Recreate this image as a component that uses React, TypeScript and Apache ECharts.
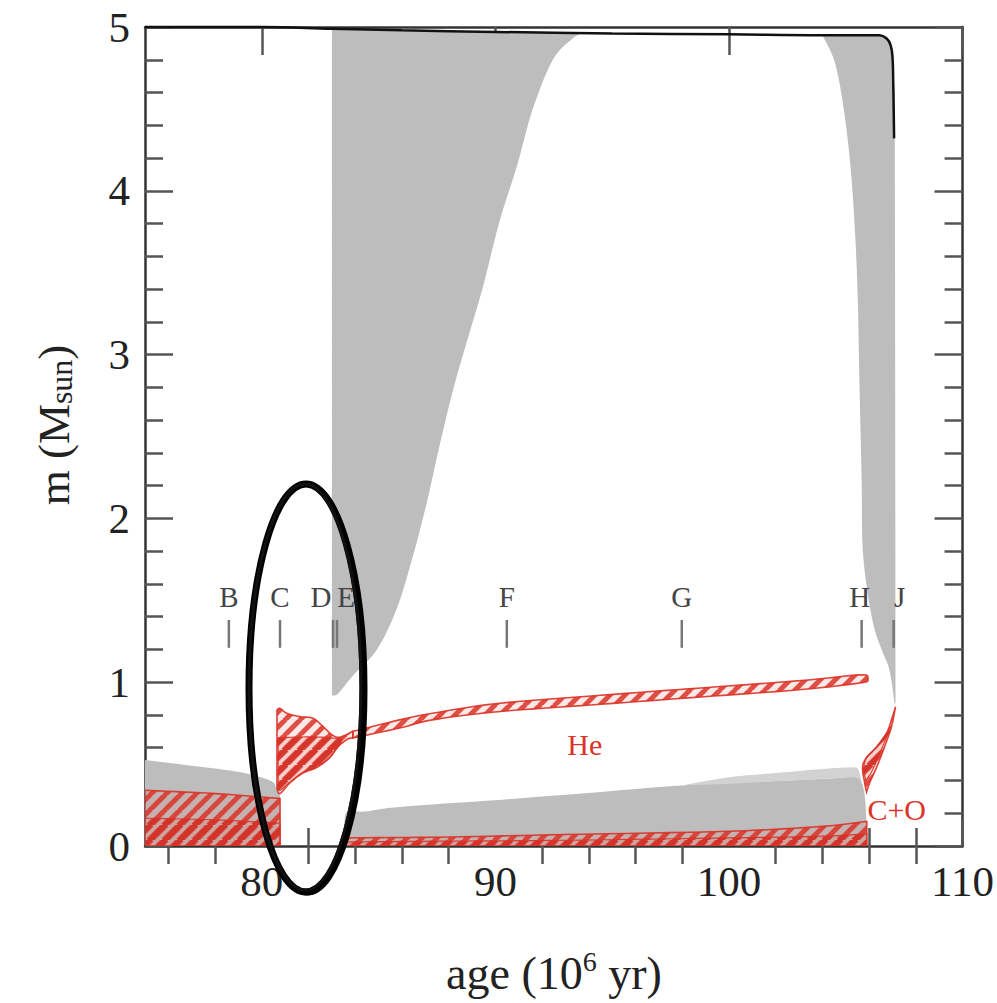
import { useEffect, useRef } from 'react';
import * as echarts from 'echarts';

const SERIF = "'Liberation Serif', 'DejaVu Serif', 'Times New Roman', serif";

// ---- axis ticks ----
const xMajorTicks = [80, 90, 100, 110];
const xMinorTicks = [76, 78, 82, 84, 86, 88, 92, 94, 96, 98, 102, 104, 106, 108];
const yMajorTicks = [0, 1, 2, 3, 4, 5];
const yMinorTicks = [0.2, 0.4, 0.6, 0.8, 1.2, 1.4, 1.6, 1.8, 2.2, 2.4, 2.6, 2.8, 3.2, 3.4, 3.6, 3.8, 4.2, 4.4, 4.6, 4.8];

// ---- total stellar mass (black line) ----
const totalMassAge = [75, 80, 83, 86, 90, 95, 100, 104, 106.45, 106.75, 106.92, 107.0, 107.03, 107.07];
const totalMass = [5.0, 5.0, 4.99, 4.98, 4.97, 4.96, 4.955, 4.95, 4.95, 4.93, 4.89, 4.82, 4.68, 4.32];

// ---- convective envelope (large grey zone) ----
const envTopAge = [83.0, 86, 90, 93.7];
const envTopMass = [4.99, 4.98, 4.97, 4.96];
const envBaseAge = [83.0, 83.26, 83.9, 84.93, 85.78, 86.47, 87.07, 87.62, 88.18, 88.78, 89.46, 90.19, 90.92, 91.6, 92.46, 93.31, 93.7];
const envBaseMass = [0.92, 0.93, 1.04, 1.2, 1.45, 1.77, 2.1, 2.45, 2.78, 3.08, 3.41, 3.82, 4.15, 4.5, 4.8, 4.93, 4.96];

// ---- second convective envelope (right grey zone) ----
const env2InnerAge = [104.0, 104.52, 104.87, 105.17, 105.38, 105.51, 105.59, 105.68, 105.72, 105.94, 106.24, 106.59, 106.88, 107.09];
const env2InnerMass = [4.95, 4.79, 4.54, 4.2, 3.79, 3.36, 2.8, 2.24, 1.83, 1.54, 1.32, 1.18, 1.07, 0.87];
const env2OuterAge = [104.0, 106.45, 106.75, 106.92, 107.0, 107.06, 107.1, 107.13];
const env2OuterMass = [4.95, 4.95, 4.93, 4.89, 4.82, 4.6, 4.3, 0.87];

// ---- convective core (left grey zone) ----
const coreAge = [75, 77, 79.1, 80.35, 80.6, 80.78, 80.82];
const coreMass = [0.525, 0.49, 0.45, 0.4, 0.36, 0.3, 0.0];

// ---- H-burning core (left hatched) ----
const hCoreAge = [75, 78, 80.78];
const hCoreOuterMass = [0.34, 0.32, 0.29];
const hCoreInnerMass = [0.17, 0.16, 0.14];

// ---- convective He core (middle grey zone) ----
const heCoreAge = [83.6, 83.6, 84.4, 86, 90, 94.5, 98, 101, 104, 105.4, 105.7, 105.85, 105.9];
const heCoreMass = [0.0, 0.2, 0.21, 0.24, 0.28, 0.33, 0.37, 0.39, 0.41, 0.42, 0.38, 0.25, 0.0];
const semiConvAge = [98, 100, 102, 104, 105.3, 105.55, 105.7];
const semiConvTop = [0.37, 0.42, 0.445, 0.47, 0.48, 0.46, 0.38];
const semiConvBase = [0.37, 0.38, 0.395, 0.41, 0.42, 0.41, 0.38];

// ---- He-burning core (bottom hatched band) ----
const heBurnAge = [83.6, 88, 93, 100, 104, 105.9];
const heBurnOuterMass = [0.05, 0.055, 0.07, 0.09, 0.12, 0.15];
const heBurnInnerMass = [0.025, 0.03, 0.035, 0.05, 0.06, 0.075];

// ---- H-burning shell (leaf + thin band) ----
const leafTopAge = [80.65, 80.78, 81.08, 81.63, 82.19, 82.62, 83.0, 83.34, 83.9];
const leafTopMass = [0.83, 0.84, 0.81, 0.79, 0.78, 0.73, 0.68, 0.665, 0.7];
const leafBaseAge = [80.65, 80.78, 81.2, 81.76, 82.36, 82.92, 83.22, 83.64, 83.9];
const leafBaseMass = [0.35, 0.32, 0.385, 0.445, 0.48, 0.54, 0.6, 0.65, 0.66];
const leafInnerTopAge = [80.7, 81.5, 82.5, 83.4];
const leafInnerTopMass = [0.66, 0.665, 0.665, 0.655];
const leafInnerBaseAge = [80.7, 80.78, 81.2, 81.76, 82.36, 82.92, 83.4];
const leafInnerBaseMass = [0.37, 0.34, 0.39, 0.45, 0.485, 0.545, 0.63];
const shellAge = [83.9, 85.9, 87.3, 90.1, 94.5, 98.8, 103.1, 105.6, 105.95];
const shellUpper = [0.7, 0.77, 0.81, 0.87, 0.92, 0.965, 1.01, 1.045, 1.03];
const shellLower = [0.66, 0.72, 0.77, 0.82, 0.865, 0.91, 0.955, 0.995, 1.01];

// ---- He-burning shell around C+O core (right hatched) ----
const coOuterAge = [107.13, 106.96, 106.66, 106.32, 106.02, 105.89];
const coOuterMass = [0.85, 0.73, 0.605, 0.48, 0.385, 0.33];
const coInnerAge = [107.13, 107.0, 106.75, 106.32, 105.89, 105.72, 105.81, 105.89];
const coInnerMass = [0.85, 0.79, 0.69, 0.605, 0.54, 0.48, 0.385, 0.33];
const coCoreAge = [106.85, 106.5, 106.1, 105.85];
const coCoreMass = [0.7, 0.58, 0.45, 0.4];
const coCoreInAge = [106.75, 106.32, 105.89, 105.75];
const coCoreInMass = [0.69, 0.605, 0.54, 0.47];

// ---- evolutionary phase markers ----
const eventLabels = ['B', 'C', 'D', 'E', 'F', 'G', 'H', 'J'];
const eventAges = [78.59, 80.78, 83.05, 83.22, 90.49, 97.98, 105.68, 107.05];
const eventTickLow = 1.21;
const eventTickHigh = 1.38;
const eventLabelMass = 1.52;

// ---- zone labels ----
const zoneLabels = ['He', 'C+O'];
const zoneAges = [93.83, 107.18];
const zoneMasses = [0.617, 0.22];

// layout / style only
const eventLabelDx = [0, 0, -12, 9, 0, 0, -2, 6];

const zip = (a: number[], b: number[]) => a.map((v, i) => [v, b[i]]);
const rev = (p: number[][]) => p.slice().reverse();

type Side = { pts: number[][]; smooth: boolean };
type Region = { sides: Side[]; kind: string };
const S = (pts: number[][]): Side => ({ pts, smooth: true });
const L = (pts: number[][]): Side => ({ pts, smooth: false });

const greyRegions: Region[] = [
  { sides: [L(zip(envTopAge, envTopMass)), S(rev(zip(envBaseAge, envBaseMass)))], kind: 'grey' },
  { sides: [S(zip(env2InnerAge, env2InnerMass)), S(rev(zip(env2OuterAge, env2OuterMass)))], kind: 'grey' },
  { sides: [S(zip(coreAge, coreMass)), L([[80.82, 0], [75, 0]])], kind: 'grey' },
  { sides: [S(zip(heCoreAge, heCoreMass)), L([[105.9, 0], [83.6, 0]])], kind: 'grey' },
  { sides: [S(zip(semiConvAge, semiConvTop)), S(rev(zip(semiConvAge, semiConvBase)))], kind: 'light' },
];

const hatchRegions: Region[] = [
  { sides: [S(zip(hCoreAge, hCoreOuterMass)), L([[80.78, 0], [75, 0]])], kind: 'hatch' },
  { sides: [S(zip(hCoreAge, hCoreInnerMass)), L([[80.78, 0], [75, 0]])], kind: 'dense' },
  { sides: [S(zip(heBurnAge, heBurnOuterMass)), L([[105.9, 0], [83.6, 0]])], kind: 'hatch' },
  { sides: [S(zip(heBurnAge, heBurnInnerMass)), L([[105.9, 0], [83.6, 0]])], kind: 'dense' },
  { sides: [S(zip(leafTopAge, leafTopMass)), S(rev(zip(leafBaseAge, leafBaseMass)))], kind: 'hatch' },
  { sides: [S(zip(leafInnerTopAge, leafInnerTopMass)), S(rev(zip(leafInnerBaseAge, leafInnerBaseMass)))], kind: 'dense' },
  { sides: [S(zip(shellAge, shellUpper)), S(rev(zip(shellAge, shellLower)))], kind: 'hatch' },
  { sides: [S(zip(coOuterAge, coOuterMass)), S(rev(zip(coInnerAge, coInnerMass)))], kind: 'hatch' },
  { sides: [S(zip(coCoreAge, coCoreMass)), S(rev(zip(coCoreInAge, coCoreInMass)))], kind: 'dense' },
];

// Catmull-Rom spline through pixel points (rendering only)
function spline(pts: number[][], n = 8) {
  if (pts.length < 3) return pts;
  const out: number[][] = [];
  for (let i = 0; i < pts.length - 1; i++) {
    const p0 = pts[i - 1] || pts[i];
    const p1 = pts[i];
    const p2 = pts[i + 1];
    const p3 = pts[i + 2] || pts[i + 1];
    for (let k = 0; k < n; k++) {
      const t = k / n;
      const t2 = t * t;
      const t3 = t2 * t;
      out.push([0, 1].map((d) =>
        0.5 * (2 * p1[d] + (-p0[d] + p2[d]) * t + (2 * p0[d] - 5 * p1[d] + 4 * p2[d] - p3[d]) * t2 +
          (-p0[d] + 3 * p1[d] - 3 * p2[d] + p3[d]) * t3)));
    }
  }
  out.push(pts[pts.length - 1]);
  return out;
}

function makeHatch(size: number, width: number, line: string, bg: string) {
  const c = document.createElement('canvas');
  c.width = size;
  c.height = size;
  const ctx = c.getContext('2d')!;
  ctx.fillStyle = bg;
  ctx.fillRect(0, 0, size, size);
  ctx.strokeStyle = line;
  ctx.lineWidth = width;
  ctx.beginPath();
  for (const o of [-size, 0, size]) {
    ctx.moveTo(o - 1, size + 1);
    ctx.lineTo(o + size + 1, -1);
  }
  ctx.stroke();
  return c;
}

export default function App() {
  const ref = useRef<HTMLDivElement>(null);
  useEffect(() => {
    if (!ref.current) return;
    const chart = echarts.init(ref.current, null, { renderer: 'svg' });
    const RED = 'rgba(218, 52, 40, 0.92)';
    const hatch = makeHatch(15, 5, 'rgba(218,52,40,0.85)', 'rgba(235,110,100,0.16)');
    const dense = makeHatch(15, 7, 'rgba(210,45,35,0.8)', 'rgba(235,110,100,0.2)');
    const pat = (c: HTMLCanvasElement) => ({ image: c, repeat: 'repeat', imageWidth: c.width, imageHeight: c.height });

    const regionStyle = (kind: string) => {
      if (kind === 'grey') return { fill: '#bdbdbd', stroke: 'none' };
      if (kind === 'light') return { fill: '#d2d2d2', stroke: 'none' };
      if (kind === 'dense') return { fill: pat(dense), stroke: RED, lineWidth: 1.2 };
      return { fill: pat(hatch), stroke: RED, lineWidth: 1.6 };
    };
    const regionSeries = (name: string, regions: Region[]) => ({
      name,
      type: 'custom',
      clip: true,
      silent: true,
      data: regions.map((r) => [r.sides[0].pts[0][0], r.sides[0].pts[0][1]]),
      encode: { x: 0, y: 1 },
      renderItem: (params: any, api: any) => {
        const r = regions[params.dataIndex];
        const points: number[][] = [];
        r.sides.forEach((s) => {
          const px = s.pts.map((p) => api.coord(p));
          points.push(...(s.smooth ? spline(px) : px));
        });
        return { type: 'polygon', shape: { points }, style: regionStyle(r.kind) };
      },
    });

    const tickStyle = { color: '#555', width: 2.5 };
    const frame = { show: true, onZero: false, lineStyle: { color: '#333', width: 2.5 } };
    const labelFont = { fontSize: 43, fontFamily: SERIF, color: '#222' };
    const xBase = { type: 'value', min: 75, max: 110, splitLine: { show: false } };
    const yBase = { type: 'value', min: 0, max: 5, splitLine: { show: false } };

    chart.setOption({
      animation: false,
      backgroundColor: '#fff',
      grid: { left: 145, top: 27, width: 818, height: 819, containLabel: false },
      xAxis: [
        { ...xBase, position: 'bottom', axisLine: frame,
          axisTick: { show: true, inside: true, length: 28, customValues: xMajorTicks, lineStyle: tickStyle },
          axisLabel: { show: true, customValues: xMajorTicks, margin: 14, ...labelFont } },
        { ...xBase, position: 'bottom', axisLine: { show: false },
          axisTick: { show: true, inside: true, length: 18, customValues: xMinorTicks, lineStyle: tickStyle },
          axisLabel: { show: false } },
        { ...xBase, position: 'top', axisLine: frame,
          axisTick: { show: true, inside: true, length: 28, customValues: xMajorTicks, lineStyle: tickStyle },
          axisLabel: { show: false } },
        { ...xBase, position: 'top', axisLine: { show: false },
          axisTick: { show: true, inside: true, length: 18, customValues: xMinorTicks, lineStyle: tickStyle },
          axisLabel: { show: false } },
      ],
      yAxis: [
        { ...yBase, position: 'left', axisLine: frame,
          axisTick: { show: true, inside: true, length: 28, customValues: yMajorTicks, lineStyle: tickStyle },
          axisLabel: { show: true, customValues: yMajorTicks, margin: 15, ...labelFont } },
        { ...yBase, position: 'left', axisLine: { show: false },
          axisTick: { show: true, inside: true, length: 18, customValues: yMinorTicks, lineStyle: tickStyle },
          axisLabel: { show: false } },
        { ...yBase, position: 'right', axisLine: frame,
          axisTick: { show: true, inside: true, length: 28, customValues: yMajorTicks, lineStyle: tickStyle },
          axisLabel: { show: false } },
        { ...yBase, position: 'right', axisLine: { show: false },
          axisTick: { show: true, inside: true, length: 18, customValues: yMinorTicks, lineStyle: tickStyle },
          axisLabel: { show: false } },
      ],
      series: [
        regionSeries('convective zones', greyRegions),
        regionSeries('burning zones', hatchRegions),
        {
          name: 'total mass',
          type: 'line',
          data: zip(totalMassAge, totalMass),
          showSymbol: false,
          symbol: 'none',
          smooth: 0.4,
          clip: false,
          lineStyle: { color: '#111', width: 2.5 },
          z: 5,
        },
        {
          name: 'phases',
          type: 'custom',
          silent: true,
          data: eventAges.map((a) => [a, eventLabelMass]),
          encode: { x: 0, y: 1 },
          z: 6,
          renderItem: (params: any, api: any) => {
            const i = params.dataIndex;
            const lo = api.coord([eventAges[i], eventTickLow]);
            const hi = api.coord([eventAges[i], eventTickHigh]);
            const t = api.coord([eventAges[i], eventLabelMass]);
            return {
              type: 'group',
              children: [
                { type: 'line', shape: { x1: lo[0], y1: lo[1], x2: hi[0], y2: hi[1] }, style: { stroke: '#777', lineWidth: 2.5 } },
                { type: 'text', x: t[0] + eventLabelDx[i], y: t[1],
                  style: { text: eventLabels[i], fill: '#444', fontSize: 29, fontFamily: SERIF, align: 'center', verticalAlign: 'middle' } },
              ],
            };
          },
        },
        {
          name: 'zones',
          type: 'custom',
          silent: true,
          data: zoneAges.map((a, i) => [a, zoneMasses[i]]),
          encode: { x: 0, y: 1 },
          z: 6,
          renderItem: (params: any, api: any) => {
            const i = params.dataIndex;
            const p = api.coord([zoneAges[i], zoneMasses[i]]);
            return {
              type: 'text', x: p[0], y: p[1],
              style: { text: zoneLabels[i], fill: 'rgb(218,52,40)', fontSize: 30, fontFamily: SERIF, align: 'center', verticalAlign: 'middle' },
            };
          },
        },
      ],
      graphic: [
        {
          type: 'text', x: 554, y: 973,
          style: {
            text: '{a|age (10}{s|6}{a| yr)}',
            align: 'center', verticalAlign: 'middle',
            rich: {
              a: { fontSize: 46, fontFamily: SERIF, fill: '#222', lineHeight: 52 },
              s: { fontSize: 28, fontFamily: SERIF, fill: '#222', lineHeight: 28, verticalAlign: 'top' },
            },
          },
        },
        {
          type: 'text', x: 54, y: 425, rotation: Math.PI / 2,
          style: {
            text: '{a|m (M}{b|sun}{a|)}',
            align: 'center', verticalAlign: 'middle',
            rich: {
              a: { fontSize: 45, fontFamily: SERIF, fill: '#222', lineHeight: 46 },
              b: { fontSize: 32, fontFamily: SERIF, fill: '#222', lineHeight: 32, verticalAlign: 'bottom' },
            },
          },
        },
        { type: 'ellipse', z: 100, shape: { cx: 306, cy: 688, rx: 57, ry: 204 }, style: { fill: 'none', stroke: '#000', lineWidth: 7 } },
        { type: 'ellipse', z: 100, shape: { cx: 307.5, cy: 689, rx: 58.5, ry: 205 }, style: { fill: 'none', stroke: '#000', lineWidth: 3 } },
        { type: 'ellipse', z: 100, shape: { cx: 305, cy: 687, rx: 56, ry: 203 }, style: { fill: 'none', stroke: '#111', lineWidth: 3 } },
      ],
    });
    return () => chart.dispose();
  }, []);
  return <div ref={ref} style={{ position: 'fixed', left: 0, top: 0, width: 997, height: 1003, background: '#fff' }} />;
}
